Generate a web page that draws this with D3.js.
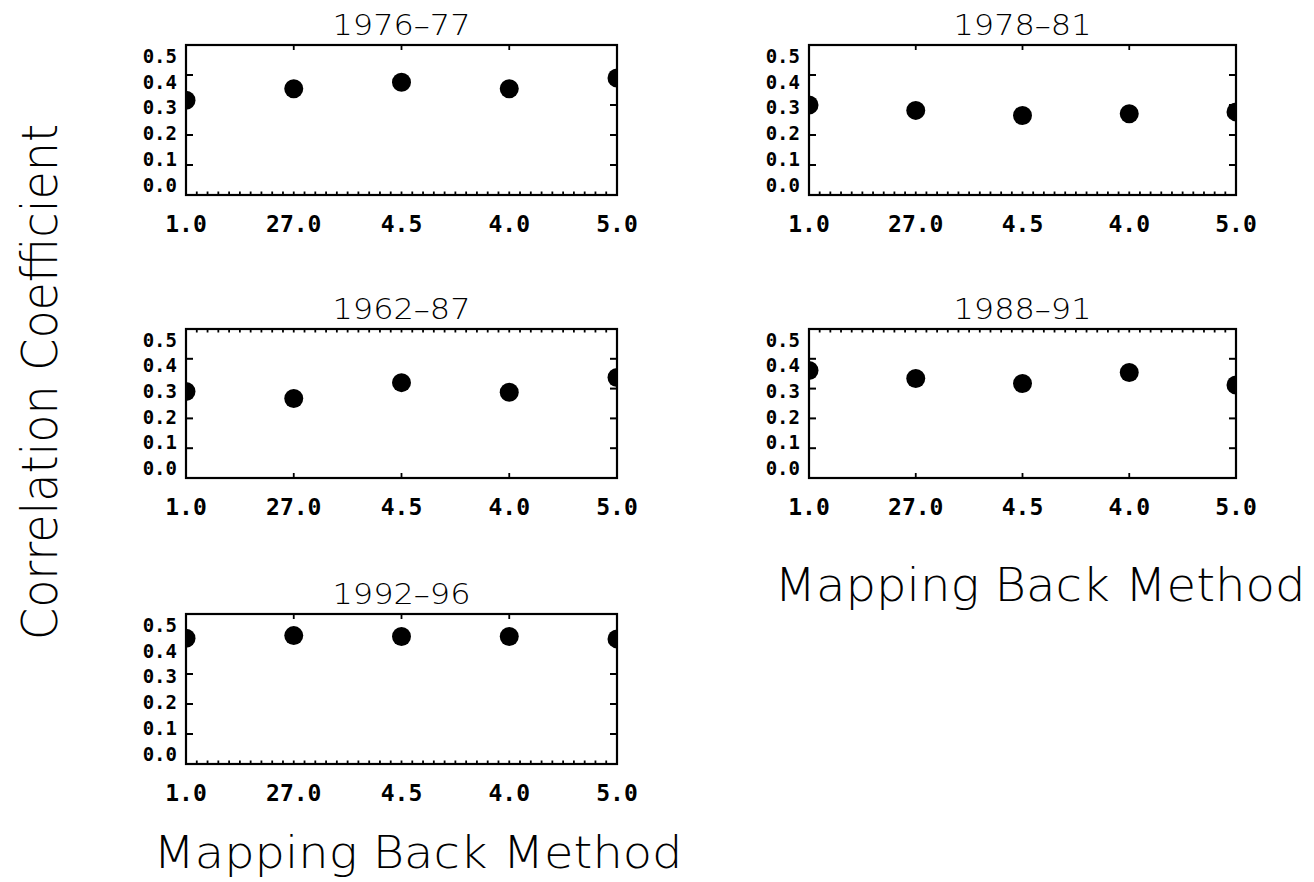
<!DOCTYPE html>
<html>
  <head>
    <meta charset="utf-8">
    <style>
      body { margin: 0; background: #fff; }
      svg { display: block; }
      .title { font-family: "DejaVu Sans"; font-weight: 200; font-size: 29px; }
      .tick { font-family: "DejaVu Sans Mono"; font-weight: bold; }
      .axis-title { font-family: "DejaVu Sans"; font-weight: 200; }
    </style>
  </head>
  <body>
    <script src="https://d3js.org/d3.v7.min.js"></script>
    <script>
      // mapping back methods along the x axis
      const methods = ['1.0', '27.0', '4.5', '4.0', '5.0'];
      const yTicks = [0.0, 0.1, 0.2, 0.3, 0.4, 0.5];

      const periods = ['1976–77', '1978–81', '1962–87', '1988–91', '1992–96'];
      const corr7677 = [0.316, 0.354, 0.376, 0.354, 0.390];
      const corr7881 = [0.300, 0.282, 0.265, 0.271, 0.277];
      const corr8287 = [0.290, 0.267, 0.320, 0.288, 0.337];
      const corr8891 = [0.361, 0.334, 0.317, 0.354, 0.312];
      const corr9296 = [0.419, 0.428, 0.425, 0.425, 0.417];
      const series = [corr7677, corr7881, corr8287, corr8891, corr9296];

      const W = 1314, H = 882;
      const svg = d3.select('body').append('svg')
        .attr('width', W)
        .attr('height', H);

      // panel boxes
      const boxes = [
        { x0: 186, x1: 617, y0: 45, y1: 195, minorTop: false },
        { x0: 809, x1: 1236, y0: 45, y1: 195, minorTop: false },
        { x0: 186, x1: 617, y0: 329, y1: 478, minorTop: true },
        { x0: 809, x1: 1236, y0: 329, y1: 478, minorTop: true },
        { x0: 186, x1: 617, y0: 614, y1: 764, minorTop: false }
      ];

      boxes.forEach((b, i) => {
        const g = svg.append('g');
        const x = d3.scalePoint().domain(methods).range([b.x0, b.x1]).padding(0);
        const xi = d3.scaleLinear().domain([0, methods.length - 1]).range([b.x0, b.x1]);
        const y = d3.scaleLinear().domain([0, 0.5]).range([b.y1, b.y0]);
        // tick labels sit a bit squeezed inside the axis range
        const yl = d3.scaleLinear().domain([0, 0.5]).range([b.y1 - 10, b.y0 + 11]);

        const clipId = 'clip' + i;
        g.append('clipPath').attr('id', clipId)
          .append('rect')
          .attr('x', b.x0).attr('y', b.y0)
          .attr('width', b.x1 - b.x0).attr('height', b.y1 - b.y0);

        // dots
        g.append('g').attr('clip-path', `url(#${clipId})`)
          .selectAll('circle')
          .data(series[i])
          .join('circle')
          .attr('cx', (d, j) => x(methods[j]))
          .attr('cy', d => y(d))
          .attr('r', 9.5)
          .attr('fill', '#000');

        // frame
        g.append('rect')
          .attr('x', b.x0).attr('y', b.y0)
          .attr('width', b.x1 - b.x0).attr('height', b.y1 - b.y0)
          .attr('fill', 'none')
          .attr('stroke', '#000')
          .attr('stroke-width', 2.2);

        // y ticks, both sides
        const inner = yTicks.slice(1, -1);
        g.append('g').selectAll('line.l')
          .data(inner).join('line')
          .attr('x1', b.x0).attr('x2', b.x0 + 7)
          .attr('y1', d => y(d)).attr('y2', d => y(d))
          .attr('stroke', '#000').attr('stroke-width', 2);
        g.append('g').selectAll('line.r')
          .data(inner).join('line')
          .attr('x1', b.x1).attr('x2', b.x1 - 7)
          .attr('y1', d => y(d)).attr('y2', d => y(d))
          .attr('stroke', '#000').attr('stroke-width', 2);

        g.append('g').selectAll('text')
          .data(yTicks).join('text')
          .attr('class', 'tick')
          .attr('x', b.x0 - 9)
          .attr('y', d => yl(d))
          .attr('dy', '0.36em')
          .attr('text-anchor', 'end')
          .attr('font-size', 19)
          .text(d => d3.format('.1f')(d));

        // minor ticks every 0.1 of a step on one side, major on the other
        const minors = d3.range(1, (methods.length - 1) * 10).map(k => k / 10);
        const minorY = b.minorTop ? b.y0 : b.y1;
        const minorDir = b.minorTop ? 1 : -1;
        g.append('g').selectAll('line')
          .data(minors).join('line')
          .attr('x1', d => xi(d)).attr('x2', d => xi(d))
          .attr('y1', minorY).attr('y2', minorY + minorDir * 3.5)
          .attr('stroke', '#000').attr('stroke-width', 1.8);

        const majorY = b.minorTop ? b.y1 : b.y0;
        const majorDir = b.minorTop ? -1 : 1;
        g.append('g').selectAll('line')
          .data(methods.slice(1, -1)).join('line')
          .attr('x1', d => x(d)).attr('x2', d => x(d))
          .attr('y1', majorY).attr('y2', majorY + majorDir * 5)
          .attr('stroke', '#000').attr('stroke-width', 1.8);

        g.append('g').selectAll('text')
          .data(methods).join('text')
          .attr('class', 'tick')
          .attr('x', d => x(d))
          .attr('y', b.y1 + 37)
          .attr('text-anchor', 'middle')
          .attr('font-size', 23)
          .text(d => d);

        g.append('text')
          .attr('class', 'title')
          .attr('x', (b.x0 + b.x1) / 2)
          .attr('y', b.y0 - 10)
          .attr('text-anchor', 'middle')
          .attr('textLength', 138)
          .attr('lengthAdjust', 'spacingAndGlyphs')
          .text(periods[i]);
      });

      // axis titles
      svg.append('text')
        .attr('class', 'axis-title')
        .attr('transform', 'translate(57,382) rotate(-90)')
        .attr('text-anchor', 'middle')
        .attr('font-size', 50)
        .attr('textLength', 516)
        .attr('lengthAdjust', 'spacingAndGlyphs')
        .text('Correlation Coefficient');

      svg.append('text')
        .attr('class', 'axis-title')
        .attr('x', 1040).attr('y', 601)
        .attr('text-anchor', 'middle')
        .attr('font-size', 46)
        .attr('textLength', 531)
        .attr('lengthAdjust', 'spacingAndGlyphs')
        .text('Mapping Back Method');

      svg.append('text')
        .attr('class', 'axis-title')
        .attr('x', 418).attr('y', 868)
        .attr('text-anchor', 'middle')
        .attr('font-size', 44)
        .attr('textLength', 529)
        .attr('lengthAdjust', 'spacingAndGlyphs')
        .text('Mapping Back Method');
    </script>
  </body>
</html>
